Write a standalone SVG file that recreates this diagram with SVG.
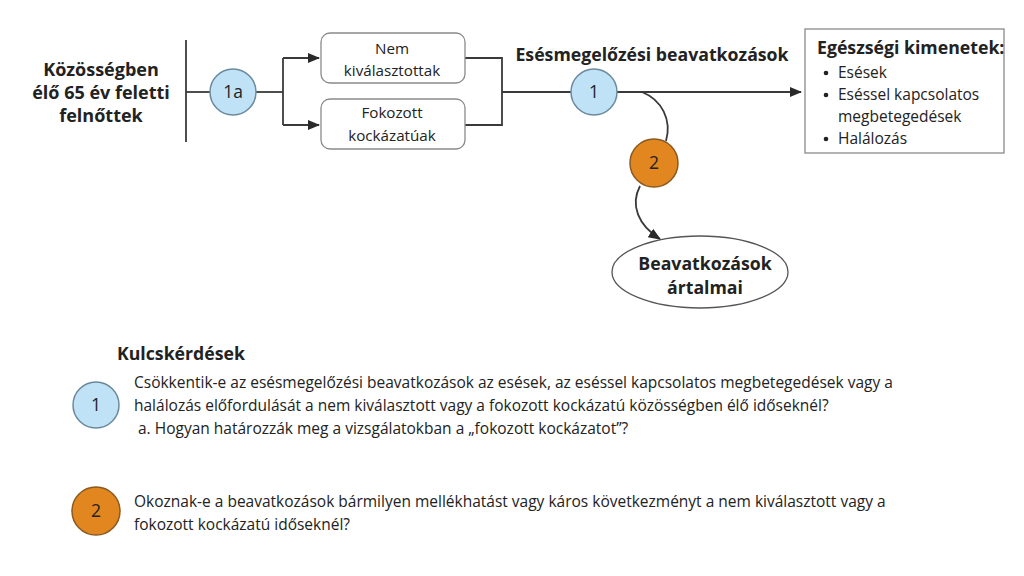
<svg xmlns="http://www.w3.org/2000/svg" width="1024" height="576" viewBox="0 0 1024 576">
<style>
text{font-family:"Open Sans","Noto Sans","Liberation Sans",sans-serif;fill:#222}
.b{font-weight:bold;font-size:17.7px}
.n{font-size:15.2px}
.q{font-size:15.5px}
.ln{fill:none;stroke:#3a3a3a;stroke-width:1.8}
.box{fill:#fff;stroke:#8a8a8a;stroke-width:1.3}
.c1{fill:#bfe2f6;stroke:#6a8a9c;stroke-width:1.5}
.c2{fill:#e2861f;stroke:#8a5a20;stroke-width:1.5}
.num{font-size:17.5px;text-anchor:middle}
</style>
<defs>
<marker id="ah" viewBox="0 0 10 10" refX="9" refY="5" markerWidth="7" markerHeight="7" markerUnits="strokeWidth" orient="auto"><path d="M0,1 L10,5 L0,9 Z" fill="#2a2a2a"/></marker>
</defs>
<rect width="1024" height="576" fill="#fff"/>
<g id="connectors">
<line class="ln" x1="186" y1="40" x2="186" y2="142"/>
<line class="ln" x1="186" y1="92" x2="210" y2="92"/>
<line class="ln" x1="256" y1="92" x2="283" y2="92"/>
<path class="ln" d="M283,58 L283,125"/>
<path class="ln" d="M283,58 L319,58" marker-end="url(#ah)"/>
<path class="ln" d="M283,125 L319,125" marker-end="url(#ah)"/>
<path class="ln" d="M465,58 L502,58 L502,125 L465,125"/>
<line class="ln" x1="502" y1="92" x2="571" y2="92"/>
<path class="ln" d="M617,92 L801,92" marker-end="url(#ah)"/>
<path class="ln" d="M642,92 C662,100 672,120 666,141"/>
<path class="ln" d="M640,186 C630,205 638,225 660,239" marker-end="url(#ah)"/>
</g>
<g id="population">
<text class="b" x="101" y="76" text-anchor="middle" style="font-size:18px">Közösségben</text>
<text class="b" x="101" y="99" text-anchor="middle" style="font-size:18px">élő 65 év feletti</text>
<text class="b" x="101" y="122" text-anchor="middle" style="font-size:18px">felnőttek</text>
</g>
<g id="kq1a">
<circle class="c1" cx="233" cy="92" r="23"/>
<text class="num" x="233" y="98">1a</text>
</g>
<g id="nem">
<rect class="box" x="321" y="33" width="144" height="50" rx="9"/>
<text class="n" x="392" y="54" text-anchor="middle">Nem</text>
<text class="n" x="392" y="76" text-anchor="middle">kiválasztottak</text>
</g>
<g id="fokozott">
<rect class="box" x="321" y="99" width="144" height="50" rx="9"/>
<text class="n" x="392" y="118" text-anchor="middle">Fokozott</text>
<text class="n" x="392" y="141" text-anchor="middle">kockázatúak</text>
</g>
<g id="intervention">
<text class="b" x="652" y="61" text-anchor="middle">Esésmegelőzési beavatkozások</text>
<circle class="c1" cx="594" cy="92" r="23"/>
<text class="num" x="594" y="98">1</text>
</g>
<g id="kq2">
<circle class="c2" cx="654" cy="163" r="24"/>
<text class="num" x="654" y="169">2</text>
</g>
<g id="harms">
<ellipse cx="700" cy="272" rx="88" ry="36" fill="#fff" stroke="#555" stroke-width="1.3"/>
<text class="b" x="705" y="270" text-anchor="middle">Beavatkozások</text>
<text class="b" x="705" y="294" text-anchor="middle">ártalmai</text>
</g>
<g id="outcomes">
<rect class="box" x="805" y="29" width="199" height="124"/>
<text class="b" x="817" y="54">Egészségi kimenetek:</text>
<circle cx="826" cy="73" r="2.3" fill="#222"/>
<text class="q" x="838" y="78">Esések</text>
<circle cx="826" cy="95" r="2.3" fill="#222"/>
<text class="q" x="838" y="100">Eséssel kapcsolatos</text>
<text class="q" x="838" y="122">megbetegedések</text>
<circle cx="826" cy="139" r="2.3" fill="#222"/>
<text class="q" x="838" y="144">Halálozás</text>
</g>
<g id="keyquestions">
<text class="b" x="117" y="360">Kulcskérdések</text>
<circle class="c1" cx="96" cy="405" r="23"/>
<text class="num" x="96" y="411">1</text>
<text class="q" x="134" y="388">Csökkentik-e az esésmegelőzési beavatkozások az esések, az eséssel kapcsolatos megbetegedések vagy a</text>
<text class="q" x="134" y="411">halálozás előfordulását a nem kiválasztott vagy a fokozott kockázatú közösségben élő időseknél?</text>
<text class="q" x="138" y="434">a. Hogyan határozzák meg a vizsgálatokban a „fokozott kockázatot”?</text>
<circle class="c2" cx="96" cy="511" r="24"/>
<text class="num" x="96" y="517">2</text>
<text class="q" x="134" y="507">Okoznak-e a beavatkozások bármilyen mellékhatást vagy káros következményt a nem kiválasztott vagy a</text>
<text class="q" x="134" y="530">fokozott kockázatú időseknél?</text>
</g>
</svg>
